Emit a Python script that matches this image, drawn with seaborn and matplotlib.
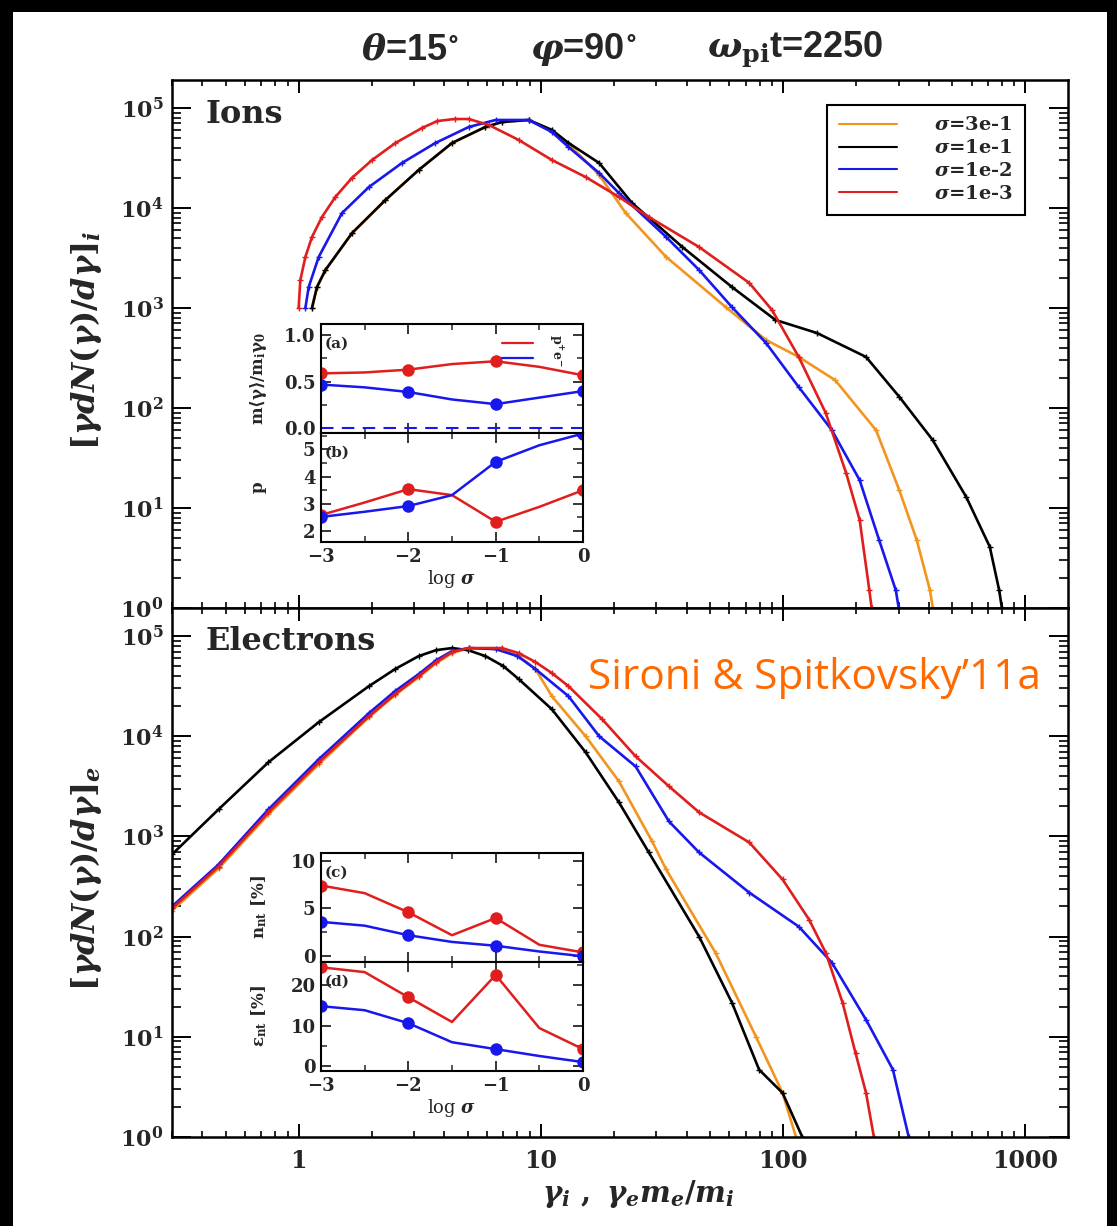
import numpy as np
import matplotlib
matplotlib.use('Agg')
import matplotlib.pyplot as plt
import seaborn as sns
from matplotlib.patches import Rectangle
from matplotlib.lines import Line2D
from matplotlib.ticker import LogLocator, FuncFormatter, NullFormatter, FixedLocator, MultipleLocator

# ---------------- data ----------------
# Ion spectra (top panel)
ion_g_3e1 = [1.135, 1.19, 1.29, 1.66, 2.28, 3.13, 4.30, 5.9, 6.9, 8.9, 11.1, 13.0, 17.4, 22.4, 32.9, 58, 85, 116, 164, 242, 302, 356, 404, 415]
ion_y_3e1 = [1.0e3, 1.62e3, 2.4e3, 5.6e3, 1.2e4, 2.4e4, 4.47e4, 6.46e4, 7.24e4, 7.59e4, 6.03e4, 4.37e4, 2.14e4, 8.9e3, 3.24e3, 1.02e3, 479, 324, 190, 60, 15, 4.8, 1.5, 1.0]

ion_g_1e1 = [1.135, 1.19, 1.29, 1.66, 2.28, 3.13, 4.30, 5.9, 6.9, 8.9, 11.1, 13.0, 17.4, 23.8, 38.4, 61.5, 93, 138, 220, 302, 414, 570, 713, 780, 800]
ion_y_1e1 = [1.0e3, 1.62e3, 2.4e3, 5.6e3, 1.2e4, 2.4e4, 4.47e4, 6.46e4, 7.24e4, 7.59e4, 6.03e4, 4.47e4, 2.82e4, 1.12e4, 4.07e3, 1.62e3, 759, 562, 324, 129, 48, 12.9, 4.1, 1.5, 1.0]

ion_g_1e2 = [1.066, 1.10, 1.21, 1.51, 1.95, 2.67, 3.67, 5.04, 6.5, 8.9, 11.1, 13.0, 17.4, 21, 32.9, 45, 61.5, 85, 116, 159, 207, 249, 292, 300]
ion_y_1e2 = [1.0e3, 1.62e3, 3.24e3, 8.9e3, 1.62e4, 2.82e4, 4.47e4, 6.46e4, 7.59e4, 7.59e4, 5.75e4, 4.07e4, 2.24e4, 1.41e4, 5.13e3, 2.4e3, 1.02e3, 447, 162, 60, 19, 4.8, 1.5, 1.0]

ion_g_1e3 = [1.0, 1.016, 1.066, 1.135, 1.248, 1.418, 1.66, 2.01, 2.51, 3.23, 3.74, 4.4, 5.04, 6.1, 8.1, 11.1, 15.3, 21, 27.9, 45, 72.5, 90, 116, 150, 182, 207, 227, 232]
ion_y_1e3 = [1.0e3, 1.9e3, 3.24e3, 5.13e3, 8.13e3, 1.29e4, 2.0e4, 3.02e4, 4.47e4, 6.31e4, 7.41e4, 7.76e4, 7.76e4, 6.76e4, 4.79e4, 3.02e4, 2.04e4, 1.29e4, 8.13e3, 4.07e3, 1.78e3, 955, 324, 89, 22.4, 7.6, 1.5, 1.0]

# Electron spectra (bottom panel)
ele_g_3e1 = [0.30, 0.467, 0.75, 1.21, 1.95, 2.5, 3.13, 3.7, 4.30, 5.04, 6.9, 8.1, 9.5, 11.1, 15.3, 21, 28.8, 32.9, 52.6, 77.3, 99.5, 113]
ele_y_3e1 = [182, 479, 1660, 5248, 1.55e4, 2.57e4, 3.89e4, 5.37e4, 6.76e4, 7.59e4, 7.41e4, 6.31e4, 4.68e4, 2.51e4, 1.0e4, 3.55e3, 891, 468, 69, 10, 2.75, 1.0]

ele_g_1e1 = [0.30, 0.467, 0.75, 1.21, 1.95, 2.5, 3.13, 3.7, 4.30, 5.0, 5.9, 7.0, 8.1, 11.1, 15.3, 21, 27.9, 45, 61.5, 79.6, 99.5, 120]
ele_y_1e1 = [661, 1862, 5495, 1.38e4, 3.16e4, 4.68e4, 6.31e4, 7.24e4, 7.59e4, 7.24e4, 6.31e4, 5.01e4, 3.72e4, 1.86e4, 6.92e3, 2.19e3, 692, 100, 21.9, 4.7, 2.75, 1.0]

ele_g_1e2 = [0.30, 0.467, 0.75, 1.21, 1.95, 2.5, 3.13, 3.7, 4.30, 5.04, 6.5, 8.0, 9.5, 13, 17.4, 24.6, 33.8, 45, 72.5, 116, 159, 220, 284, 330]
ele_y_1e2 = [200, 525, 1862, 5888, 1.70e4, 2.82e4, 4.17e4, 5.75e4, 7.08e4, 7.59e4, 7.41e4, 6.31e4, 4.68e4, 2.51e4, 1.0e4, 5.0e3, 1.41e3, 692, 275, 126, 55, 14.8, 4.7, 1.0]

ele_g_1e3 = [0.30, 0.467, 0.75, 1.21, 1.95, 2.5, 3.13, 3.7, 4.30, 5.04, 6.9, 8.1, 9.5, 11.1, 13, 17.9, 24.6, 33.8, 45, 72.5, 99.5, 128, 150, 176, 199, 220, 237]
ele_y_1e3 = [191, 501, 1738, 5495, 1.58e4, 2.63e4, 3.98e4, 5.5e4, 6.92e4, 7.59e4, 7.59e4, 6.76e4, 5.5e4, 4.27e4, 3.16e4, 1.48e4, 6.31e3, 3.16e3, 1.74e3, 871, 372, 148, 69, 21.9, 6.9, 2.75, 1.0]

series_labels = [r'$\sigma$=3e-1', r'$\sigma$=1e-1', r'$\sigma$=1e-2', r'$\sigma$=1e-3']

# Insets
log_sigma = [-3, -2.5, -2, -1.5, -1, -0.5, 0]
a_ion = [0.59, 0.60, 0.63, 0.69, 0.72, 0.66, 0.57]
a_ele = [0.47, 0.44, 0.39, 0.31, 0.26, 0.33, 0.40]
b_ion = [2.59, 3.05, 3.54, 3.32, 2.34, 2.89, 3.50]
b_ele = [2.52, 2.71, 2.92, 3.32, 4.54, 5.15, 5.58]
c_ion = [7.4, 6.6, 4.6, 2.2, 4.0, 1.2, 0.4]
c_ele = [3.6, 3.2, 2.2, 1.5, 1.1, 0.5, 0.0]
d_ion = [24.4, 23.2, 17.0, 10.9, 22.5, 9.4, 4.2]
d_ele = [14.8, 13.8, 10.6, 5.9, 4.2, 2.5, 1.0]

# ---------------- style ----------------
sns.set_theme(style='ticks')
plt.rcParams['font.family'] = ['DejaVu Serif']
plt.rcParams['font.weight'] = 'bold'
plt.rcParams['mathtext.fontset'] = 'dejavuserif'
plt.rcParams['axes.linewidth'] = 1.8
plt.rcParams['axes.edgecolor'] = 'black'

C_OR = '#f2951f'
C_BK = '#000000'
C_BL = '#1818ec'
C_RD = '#e01e1e'
colors = [C_OR, C_BK, C_BL, C_RD]

W, H = 1117, 1226
fig = plt.figure(figsize=(W / 100, H / 100), dpi=100, facecolor='black')
fig.add_artist(Rectangle((13 / W, 0), (1107 - 13) / W, 1 - 12 / H, transform=fig.transFigure,
                         facecolor='white', edgecolor='none', zorder=-10))


def axrect(l, r, t, b):
    return [l / W, 1 - b / H, (r - l) / W, (b - t) / H]


ax1 = fig.add_axes(axrect(172, 1068, 80, 608))
ax2 = fig.add_axes(axrect(172, 1068, 608, 1137))

ion_sets = [(ion_g_3e1, ion_y_3e1), (ion_g_1e1, ion_y_1e1), (ion_g_1e2, ion_y_1e2), (ion_g_1e3, ion_y_1e3)]
ele_sets = [(ele_g_3e1, ele_y_3e1), (ele_g_1e1, ele_y_1e1), (ele_g_1e2, ele_y_1e2), (ele_g_1e3, ele_y_1e3)]

ylog_fmt = FuncFormatter(lambda v, p: r'$\mathbf{10^{%d}}$' % int(round(np.log10(v))))

for ax, sets in [(ax1, ion_sets), (ax2, ele_sets)]:
    ax.set_facecolor('white')
    ax.set_xscale('log')
    ax.set_yscale('log')
    for (g, y), c in zip(sets, colors):
        sns.lineplot(x=g, y=y, ax=ax, color=c, lw=1.9, marker='+', markersize=4.5,
                     markeredgewidth=1.0, markeredgecolor=c, sort=False, estimator=None, legend=False)
    ax.set_xlim(0.3, 1500)
    ax.set_ylim(1, 10 ** 5.28)
    ax.yaxis.set_major_locator(LogLocator(base=10, numticks=12))
    ax.yaxis.set_minor_locator(LogLocator(base=10, subs=np.arange(2, 10), numticks=12))
    ax.yaxis.set_major_formatter(ylog_fmt)
    ax.yaxis.set_minor_formatter(NullFormatter())
    ax.xaxis.set_major_locator(FixedLocator([1, 10, 100, 1000]))
    ax.xaxis.set_minor_locator(LogLocator(base=10, subs=np.arange(2, 10), numticks=12))
    ax.xaxis.set_minor_formatter(NullFormatter())
    ax.tick_params(axis='both', which='both', direction='in', top=True, right=True, color='black')
    ax.tick_params(axis='y', which='major', length=13.5, width=1.4, labelsize=16, pad=6)
    ax.tick_params(axis='y', which='minor', length=6.5, width=1.2)
    ax.tick_params(axis='x', which='major', length=9.5, width=1.4, labelsize=17, pad=9)
    ax.tick_params(axis='x', which='minor', length=4.5, width=1.2)
    ax.set_xlabel('')
    ax.set_ylabel('')
    for sp in ax.spines.values():
        sp.set_linewidth(1.8)

ax1.xaxis.set_major_formatter(NullFormatter())
ax2.xaxis.set_major_formatter(FuncFormatter(lambda v, p: '%d' % int(round(v))))

ax1.text(0.037, 0.934, 'Ions', transform=ax1.transAxes, fontsize=23, fontweight='bold', va='center', ha='left')
ax2.text(0.037, 0.936, 'Electrons', transform=ax2.transAxes, fontsize=23, fontweight='bold', va='center', ha='left')

handles = [Line2D([], [], color=c, lw=1.5) for c in colors]
leg = ax1.legend(handles, series_labels, loc='upper right', bbox_to_anchor=(0.952, 0.953), borderaxespad=0,
                 frameon=True, fancybox=False, framealpha=1, edgecolor='black', handlelength=3.0,
                 handletextpad=1.9, labelspacing=0.25, borderpad=0.6, prop={'size': 14, 'weight': 'bold'})
leg.get_frame().set_linewidth(1.5)

# titles / labels
tfam = ['Liberation Sans Narrow', 'Liberation Sans', 'DejaVu Sans']
fig.text(410 / W, 1 - 50 / H, r'$\theta$=15$^{\circ}$', ha='center', va='center', fontsize=26, fontweight='bold', family=tfam)
fig.text(583 / W, 1 - 50 / H, r'$\varphi$=90$^{\circ}$', ha='center', va='center', fontsize=26, fontweight='bold', family=tfam)
fig.text(795 / W, 1 - 50 / H, r'$\omega_{\rm pi}$t=2250', ha='center', va='center', fontsize=26, fontweight='bold', family=tfam)
fig.text(86 / W, 1 - 340 / H, r'$[\gamma dN(\gamma)/d\gamma]_i$', rotation=90, ha='center', va='center',
         fontsize=23, fontweight='normal')
fig.text(86 / W, 1 - 878 / H, r'$[\gamma dN(\gamma)/d\gamma]_e$', rotation=90, ha='center', va='center',
         fontsize=23, fontweight='normal')
fig.text(638 / W, 1 - 1194 / H, r'$\gamma_i\ ,\ \gamma_e m_e/m_i$', ha='center', va='center', fontsize=21,
         fontweight='normal')
fig.text(588 / W, 1 - 689 / H, 'Sironi & Spitkovsky\u201911a', ha='left', va='baseline', fontsize=30.5,
         fontweight='normal', color='#ff6a00', family=['Open Sans', 'Lato', 'DejaVu Sans'])

# ---------------- insets ----------------
insA = fig.add_axes(axrect(321, 583, 324, 433))
insB = fig.add_axes(axrect(321, 583, 433, 542))
insC = fig.add_axes(axrect(321, 583, 853, 962))
insD = fig.add_axes(axrect(321, 583, 962, 1071))

inset_specs = [
    (insA, a_ion, a_ele, (-0.05, 1.12), [0.0, 0.5, 1.0], ['0.0', '0.5', '1.0'], 0.25, r'$\mathbf{m\langle\gamma\rangle/m_i\gamma_0}$', '(a)'),
    (insB, b_ion, b_ele, (1.6, 5.6), [2, 3, 4, 5], ['2', '3', '4', '5'], 0.5, r'$\mathbf{p}$', '(b)'),
    (insC, c_ion, c_ele, (-0.6, 10.8), [0, 5, 10], ['0', '5', '10'], 2.5, r'$\mathbf{n_{nt}\ [\%]}$', '(c)'),
    (insD, d_ion, d_ele, (-1.2, 25.7), [0, 10, 20], ['0', '10', '20'], 5, r'$\mathbf{\epsilon_{nt}\ [\%]}$', '(d)'),
]
for ax, yi, ye, ylim, yt, ytl, ymin, ylab, tag in inset_specs:
    ax.set_facecolor('white')
    sns.lineplot(x=log_sigma, y=yi, ax=ax, color=C_RD, lw=1.8, marker='o', markersize=9,
                 markeredgewidth=0, markevery=[0, 2, 4, 6], sort=False, estimator=None, legend=False)
    sns.lineplot(x=log_sigma, y=ye, ax=ax, color=C_BL, lw=1.8, marker='o', markersize=9,
                 markeredgewidth=0, markevery=[0, 2, 4, 6], sort=False, estimator=None, legend=False)
    ax.set_xlim(-3, 0)
    ax.set_ylim(*ylim)
    ax.set_yticks(yt)
    ax.set_yticklabels(ytl)
    ax.yaxis.set_minor_locator(MultipleLocator(ymin))
    ax.set_xticks([-3, -2, -1, 0])
    ax.xaxis.set_minor_locator(MultipleLocator(0.5))
    ax.tick_params(axis='both', which='both', direction='in', top=True, right=True)
    ax.tick_params(axis='both', which='major', length=7, width=1.3, labelsize=13, pad=4)
    ax.tick_params(axis='both', which='minor', length=4, width=1.1)
    ax.set_xlabel('')
    ax.set_ylabel(ylab, fontsize=12)
    ax.yaxis.set_label_coords(-0.2, 0.5)
    for sp in ax.spines.values():
        sp.set_linewidth(1.5)
    ax.text(0.015, 0.88, tag, transform=ax.transAxes, fontsize=11, fontweight='bold', va='top', ha='left')

for ax in (insA, insC):
    ax.set_xticklabels([])
for ax in (insB, insD):
    ax.set_xticklabels(['\u22123', '\u22122', '\u22121', '0'])
    ax.set_xlabel(r'log $\sigma$', fontsize=13, labelpad=2)

insA.axhline(0.0, color=C_BL, lw=1.5, ls=(0, (6, 4)))
insA.plot([-0.93, -0.57], [0.92, 0.92], color=C_RD, lw=1.6)
insA.plot([-0.93, -0.57], [0.75, 0.75], color=C_BL, lw=1.6)
insA.text(-0.32, 0.92, r'$\mathbf{p^{+}}$', rotation=270, fontsize=9, ha='center', va='center')
insA.text(-0.32, 0.75, r'$\mathbf{e^{-}}$', rotation=270, fontsize=9, ha='center', va='center')

fig.savefig('out.png', dpi=100, facecolor=fig.get_facecolor())
